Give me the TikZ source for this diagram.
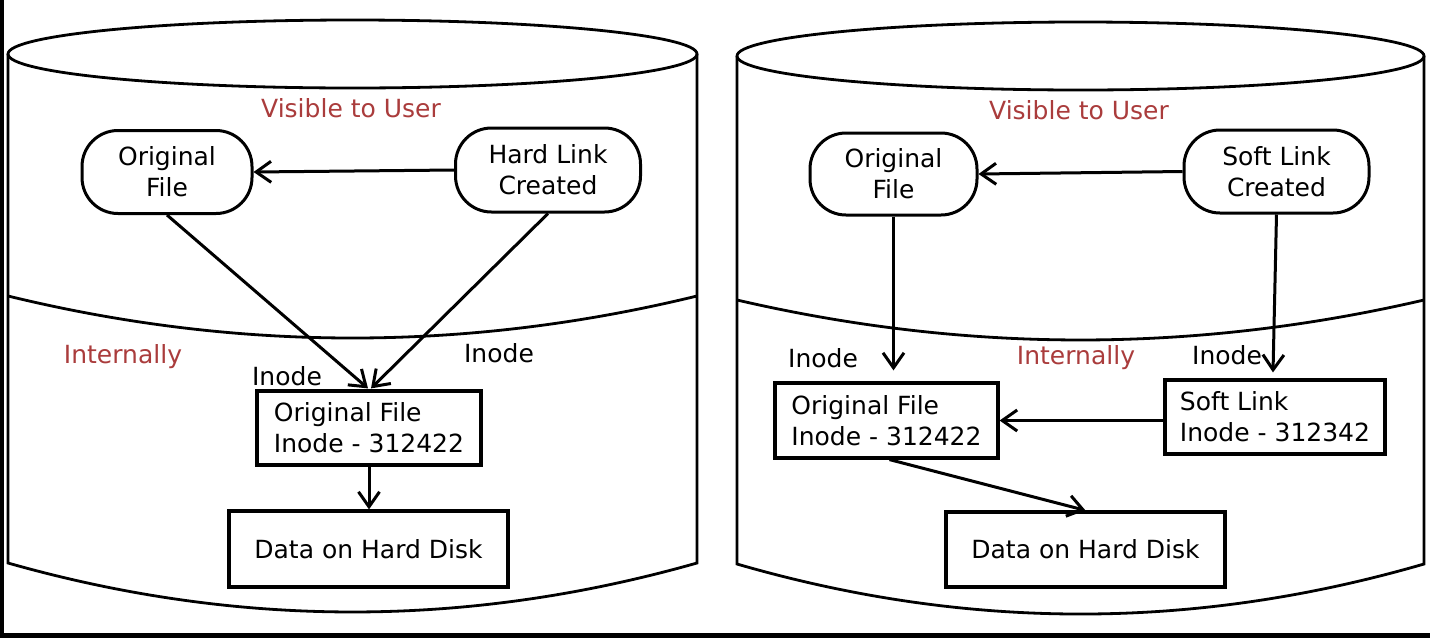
\documentclass[tikz,border=0pt]{standalone}
\usepackage{fontspec}
\setmainfont{DejaVu Sans}
\usetikzlibrary{arrows.meta}
\definecolor{lblred}{RGB}{170,60,60}
\begin{document}
\begin{tikzpicture}[x=1pt,y=-1pt,
  font=\fontsize{25}{31}\selectfont,
  cyl/.style={line width=2.8pt},
  pill/.style={draw,line width=3pt,rounded corners=36pt,align=center,inner sep=0pt},
  ibox/.style={draw,line width=3.2pt,align=left,inner sep=0pt},
  dbox/.style={draw,line width=3.2pt,inner sep=0pt},
  lbl/.style={inner sep=0pt},
  redlbl/.style={text=lblred,inner sep=0pt},
  arr/.style={line width=3pt,-{Straight Barb[length=15pt,width=21pt]}}
]
\useasboundingbox (0,0) rectangle (1430,638);
\fill[white] (0,0) rectangle (1430,638);
\fill[black] (0,0) rectangle (4,638);
\fill[black] (0,633) rectangle (1430,638);

% left cylinder
\draw[cyl] (352.5,54) ellipse [x radius=344.5, y radius=34];
\draw[cyl] (8,54) -- (8,563) .. controls (238,628.3) and (467,628.3) .. (697,563) -- (697,54);
\draw[cyl] (8,296) .. controls (238,352) and (467,352) .. (697,296);

% right cylinder
\draw[cyl] (1080.5,56) ellipse [x radius=343.5, y radius=34];
\draw[cyl] (737,56) -- (737,564) .. controls (967,630.7) and (1194,630.7) .. (1424,564) -- (1424,56);
\draw[cyl] (737,300) .. controls (967,353.3) and (1194,353.3) .. (1424,300);

% left nodes
\node[redlbl] (vis1) at (351,108) {Visible to User};
\node[pill,minimum width=170pt,minimum height=83pt] (of1) at (167,172) {Original\\File};
\node[pill,minimum width=185pt,minimum height=84pt] (hl1) at (548,170) {Hard Link\\Created};
\node[redlbl] (int1) at (123,357) {Internally};
\node[lbl] (il1) at (287,376) {Inode};
\node[lbl] (il2) at (499,353) {Inode};
\node[ibox,minimum width=224pt,minimum height=74pt] (ino1) at (369,428) {Original File\\Inode - 312422};
\node[dbox,minimum width=279pt,minimum height=76pt] (data1) at (368.5,549) {Data on Hard Disk};

\draw[arr] (hl1.west) -- (of1.east);
\draw[arr] (of1.south) -- ([xshift=-1pt,yshift=1pt]ino1.north);
\draw[arr] (hl1.south) -- ([xshift=2pt,yshift=1pt]ino1.north);
\draw[arr] (ino1.south) -- (ino1.south |- data1.north);

% right nodes
\node[redlbl] (vis2) at (1079,110) {Visible to User};
\node[pill,minimum width=167pt,minimum height=82pt] (of2) at (893.5,174) {Original\\File};
\node[pill,minimum width=185pt,minimum height=83pt] (sl2) at (1276.5,171.5) {Soft Link\\Created};
\node[redlbl] (int2) at (1076,358) {Internally};
\node[lbl] (il3) at (823,358) {Inode};
\node[lbl] (il4) at (1227,355) {Inode};
\node[ibox,minimum width=223pt,minimum height=75pt] (ino2) at (886.5,420.5) {Original File\\Inode - 312422};
\node[ibox,minimum width=220pt,minimum height=74pt] (sino2) at (1275,417) {Soft Link\\Inode - 312342};
\node[dbox,minimum width=279pt,minimum height=75pt] (data2) at (1085.5,549.5) {Data on Hard Disk};

\draw[arr] (sl2.west) -- (of2.east);
\draw[arr] (of2.south) -- ([yshift=11pt]ino2.north -| of2.south);
\draw[arr] (sl2.south) -- ([xshift=-2pt,yshift=6pt]sino2.north);
\draw[arr] (sino2.west |- ino2.east) -- (ino2.east);
\draw[arr] ([xshift=3pt]ino2.south) -- (data2.north);
\end{tikzpicture}
\end{document}
